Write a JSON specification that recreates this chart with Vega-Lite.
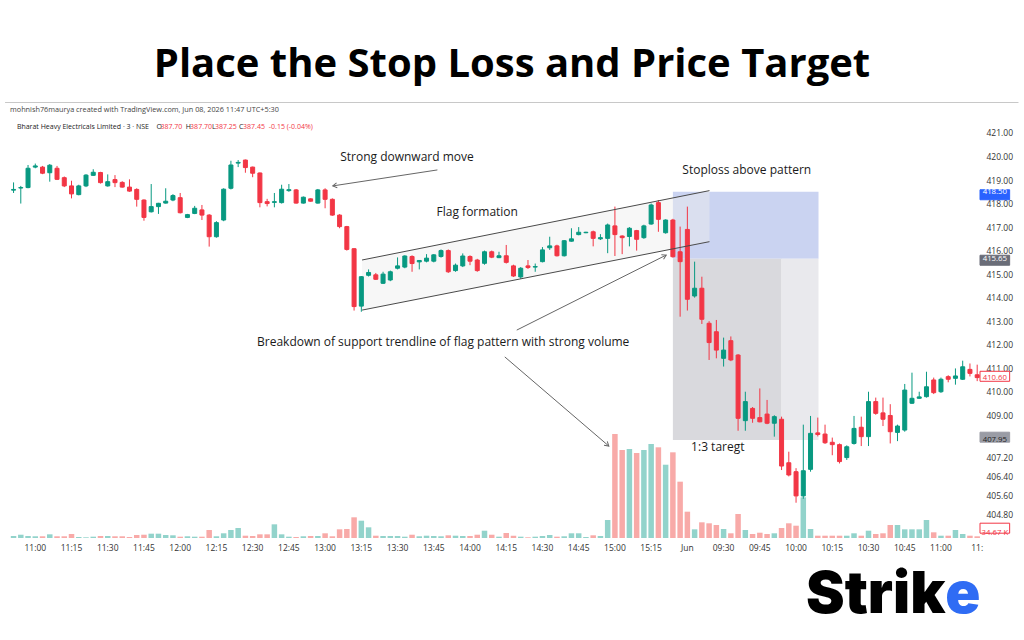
{
  "$schema": "https://vega.github.io/schema/vega-lite/v6.json",
  "width": 980,
  "height": 435,
  "autosize": {"type": "none"},
  "padding": {"left": 4, "top": 103, "right": 40, "bottom": 102},
  "background": "#ffffff",
  "config": {"view": {"stroke": null}},
  "title": {"text": "Place the Stop Loss and Price Target", "font": "Open Sans", "fontSize": 40, "fontWeight": 700, "color": "#000000", "anchor": "middle", "frame": "group", "dx": 18, "offset": 17},
  "datasets": {
    "candles": [
      {"i":0,"o":418.57,"h":418.9,"l":418.45,"c":418.6,"v":41},
      {"i":1,"o":418.66,"h":418.75,"l":418.0,"c":418.68,"v":67},
      {"i":2,"o":418.68,"h":419.64,"l":418.65,"c":419.5,"v":41},
      {"i":3,"o":419.55,"h":419.7,"l":419.5,"c":419.6,"v":35},
      {"i":4,"o":419.55,"h":419.6,"l":419.25,"c":419.29,"v":35},
      {"i":5,"o":419.31,"h":419.68,"l":418.93,"c":419.63,"v":75},
      {"i":6,"o":419.5,"h":419.6,"l":419.0,"c":419.03,"v":35},
      {"i":7,"o":419.1,"h":419.15,"l":418.7,"c":418.75,"v":35},
      {"i":8,"o":418.75,"h":418.97,"l":418.22,"c":418.41,"v":82},
      {"i":9,"o":418.38,"h":418.8,"l":418.35,"c":418.75,"v":20},
      {"i":10,"o":418.75,"h":419.25,"l":418.7,"c":419.21,"v":14},
      {"i":11,"o":419.2,"h":419.46,"l":419.18,"c":419.33,"v":27},
      {"i":12,"o":419.32,"h":419.35,"l":418.85,"c":418.89,"v":41},
      {"i":13,"o":418.75,"h":419.24,"l":418.72,"c":418.93,"v":41},
      {"i":14,"o":419.02,"h":419.21,"l":418.7,"c":418.89,"v":35},
      {"i":15,"o":418.9,"h":418.95,"l":418.68,"c":418.7,"v":35},
      {"i":16,"o":418.7,"h":419.03,"l":418.5,"c":418.53,"v":20},
      {"i":17,"o":418.6,"h":418.65,"l":417.87,"c":418.18,"v":61},
      {"i":18,"o":418.15,"h":418.18,"l":417.27,"c":417.41,"v":67},
      {"i":19,"o":417.65,"h":418.83,"l":417.62,"c":417.87,"v":88},
      {"i":20,"o":417.87,"h":418.03,"l":417.56,"c":418.01,"v":88},
      {"i":21,"o":418.02,"h":418.65,"l":418.0,"c":418.1,"v":61},
      {"i":22,"o":418.15,"h":418.4,"l":418.1,"c":418.34,"v":55},
      {"i":23,"o":418.25,"h":418.45,"l":417.58,"c":417.61,"v":27},
      {"i":24,"o":417.41,"h":417.56,"l":417.38,"c":417.53,"v":35},
      {"i":25,"o":417.58,"h":417.9,"l":417.55,"c":417.8,"v":27},
      {"i":26,"o":417.73,"h":417.94,"l":417.3,"c":417.51,"v":27},
      {"i":27,"o":417.51,"h":417.55,"l":416.17,"c":416.59,"v":163},
      {"i":28,"o":416.59,"h":417.25,"l":416.55,"c":417.19,"v":35},
      {"i":29,"o":417.3,"h":418.65,"l":417.25,"c":418.61,"v":96},
      {"i":30,"o":418.65,"h":419.82,"l":418.6,"c":419.64,"v":163},
      {"i":31,"o":419.72,"h":419.85,"l":419.55,"c":419.75,"v":204},
      {"i":32,"o":419.85,"h":419.87,"l":419.31,"c":419.53,"v":47},
      {"i":33,"o":419.55,"h":419.57,"l":419.12,"c":419.29,"v":41},
      {"i":34,"o":419.3,"h":419.32,"l":417.84,"c":418.04,"v":75},
      {"i":35,"o":418.08,"h":418.2,"l":417.88,"c":418.0,"v":75},
      {"i":36,"o":418.05,"h":418.45,"l":417.84,"c":418.08,"v":279},
      {"i":37,"o":418.04,"h":418.8,"l":418.0,"c":418.61,"v":75},
      {"i":38,"o":418.55,"h":418.83,"l":418.5,"c":418.59,"v":27},
      {"i":39,"o":418.58,"h":418.62,"l":418.0,"c":418.02,"v":20},
      {"i":40,"o":418.02,"h":418.3,"l":418.0,"c":418.27,"v":35},
      {"i":41,"o":418.2,"h":418.22,"l":418.08,"c":418.1,"v":41},
      {"i":42,"o":418.02,"h":418.62,"l":418.0,"c":418.58,"v":41},
      {"i":43,"o":418.58,"h":418.65,"l":417.8,"c":418.18,"v":96},
      {"i":44,"o":418.18,"h":418.22,"l":417.48,"c":417.51,"v":35},
      {"i":45,"o":417.51,"h":417.55,"l":416.95,"c":417.02,"v":177},
      {"i":46,"o":417.02,"h":417.05,"l":416.0,"c":416.05,"v":184},
      {"i":47,"o":416.08,"h":416.1,"l":413.45,"c":413.62,"v":422},
      {"i":48,"o":413.64,"h":414.92,"l":413.4,"c":414.89,"v":353},
      {"i":49,"o":414.95,"h":415.2,"l":414.9,"c":415.07,"v":218},
      {"i":50,"o":414.97,"h":415.05,"l":414.75,"c":414.78,"v":47},
      {"i":51,"o":414.61,"h":415.1,"l":414.58,"c":415.0,"v":41},
      {"i":52,"o":414.75,"h":415.15,"l":414.7,"c":415.1,"v":41},
      {"i":53,"o":415.25,"h":415.71,"l":415.2,"c":415.35,"v":41},
      {"i":54,"o":415.3,"h":415.8,"l":415.25,"c":415.77,"v":27},
      {"i":55,"o":415.75,"h":415.8,"l":415.1,"c":415.45,"v":67},
      {"i":56,"o":415.52,"h":415.6,"l":415.2,"c":415.58,"v":35},
      {"i":57,"o":415.55,"h":415.85,"l":415.5,"c":415.68,"v":47},
      {"i":58,"o":415.55,"h":415.85,"l":415.5,"c":415.82,"v":41},
      {"i":59,"o":415.75,"h":416.05,"l":415.7,"c":416.0,"v":35},
      {"i":60,"o":416.0,"h":416.05,"l":415.05,"c":415.1,"v":55},
      {"i":61,"o":415.15,"h":415.45,"l":415.1,"c":415.38,"v":47},
      {"i":62,"o":415.35,"h":415.88,"l":415.3,"c":415.77,"v":41},
      {"i":63,"o":415.75,"h":415.8,"l":415.38,"c":415.55,"v":41},
      {"i":64,"o":415.6,"h":415.65,"l":415.1,"c":415.15,"v":67},
      {"i":65,"o":415.46,"h":416.0,"l":415.4,"c":415.95,"v":149},
      {"i":66,"o":415.95,"h":416.0,"l":415.68,"c":415.72,"v":67},
      {"i":67,"o":415.7,"h":415.95,"l":415.68,"c":415.78,"v":27},
      {"i":68,"o":415.78,"h":416.24,"l":415.45,"c":415.5,"v":102},
      {"i":69,"o":415.35,"h":415.4,"l":414.88,"c":414.92,"v":47},
      {"i":70,"o":414.88,"h":415.3,"l":414.8,"c":415.25,"v":27},
      {"i":71,"o":415.35,"h":415.6,"l":415.22,"c":415.28,"v":14},
      {"i":72,"o":415.3,"h":415.45,"l":415.1,"c":415.32,"v":27},
      {"i":73,"o":415.53,"h":416.15,"l":415.5,"c":416.03,"v":41},
      {"i":74,"o":416.12,"h":416.59,"l":416.03,"c":416.2,"v":61},
      {"i":75,"o":416.2,"h":416.25,"l":415.75,"c":415.78,"v":27},
      {"i":76,"o":415.78,"h":416.45,"l":415.75,"c":416.42,"v":35},
      {"i":77,"o":416.4,"h":416.95,"l":416.38,"c":416.5,"v":96},
      {"i":78,"o":416.68,"h":417.0,"l":416.65,"c":416.78,"v":96},
      {"i":79,"o":416.76,"h":416.8,"l":416.74,"c":416.78,"v":20},
      {"i":80,"o":416.8,"h":416.85,"l":416.18,"c":416.52,"v":55},
      {"i":81,"o":416.5,"h":416.7,"l":416.45,"c":416.55,"v":41},
      {"i":82,"o":416.52,"h":417.15,"l":415.89,"c":417.09,"v":367},
      {"i":83,"o":417.05,"h":417.87,"l":415.77,"c":416.68,"v":2122},
      {"i":84,"o":416.62,"h":416.65,"l":415.85,"c":416.55,"v":1795},
      {"i":85,"o":416.6,"h":417.0,"l":416.18,"c":416.95,"v":1816},
      {"i":86,"o":416.85,"h":416.88,"l":416.0,"c":416.48,"v":1734},
      {"i":87,"o":416.55,"h":417.1,"l":416.5,"c":417.05,"v":1795},
      {"i":88,"o":417.13,"h":418.0,"l":417.1,"c":417.94,"v":1918},
      {"i":89,"o":418.04,"h":418.15,"l":416.8,"c":417.33,"v":1850},
      {"i":90,"o":416.76,"h":417.33,"l":416.72,"c":417.3,"v":1495},
      {"i":91,"o":417.3,"h":417.35,"l":415.7,"c":415.74,"v":1748},
      {"i":92,"o":415.95,"h":417.02,"l":413.19,"c":415.53,"v":1149},
      {"i":93,"o":416.9,"h":417.87,"l":413.45,"c":413.93,"v":537},
      {"i":94,"o":414.07,"h":415.53,"l":414.0,"c":414.4,"v":177},
      {"i":95,"o":414.4,"h":414.89,"l":412.88,"c":413.08,"v":320},
      {"i":96,"o":412.91,"h":413.0,"l":411.35,"c":412.09,"v":300},
      {"i":97,"o":412.55,"h":413.05,"l":411.42,"c":411.77,"v":265},
      {"i":98,"o":411.42,"h":412.3,"l":411.07,"c":411.77,"v":184},
      {"i":99,"o":412.17,"h":412.35,"l":411.3,"c":411.35,"v":96},
      {"i":100,"o":411.56,"h":411.6,"l":408.34,"c":408.87,"v":490},
      {"i":101,"o":408.77,"h":410.0,"l":408.34,"c":409.58,"v":163},
      {"i":102,"o":409.29,"h":409.35,"l":408.68,"c":408.87,"v":82},
      {"i":103,"o":408.9,"h":410.14,"l":408.7,"c":408.72,"v":108},
      {"i":104,"o":409.05,"h":409.65,"l":408.62,"c":408.66,"v":82},
      {"i":105,"o":408.66,"h":409.0,"l":408.09,"c":408.94,"v":96},
      {"i":106,"o":408.83,"h":408.94,"l":406.67,"c":406.84,"v":204},
      {"i":107,"o":406.98,"h":407.45,"l":406.4,"c":406.46,"v":300},
      {"i":108,"o":406.6,"h":406.75,"l":405.28,"c":405.57,"v":251},
      {"i":109,"o":405.57,"h":408.6,"l":405.45,"c":406.64,"v":830},
      {"i":110,"o":406.7,"h":408.97,"l":406.6,"c":408.23,"v":184},
      {"i":111,"o":408.25,"h":408.9,"l":408.1,"c":408.18,"v":47},
      {"i":112,"o":408.2,"h":408.6,"l":407.78,"c":407.83,"v":47},
      {"i":113,"o":407.85,"h":408.05,"l":407.3,"c":407.75,"v":47},
      {"i":114,"o":407.75,"h":407.8,"l":406.95,"c":407.03,"v":47},
      {"i":115,"o":407.2,"h":407.72,"l":407.1,"c":407.66,"v":47},
      {"i":116,"o":407.8,"h":408.97,"l":407.75,"c":408.44,"v":96},
      {"i":117,"o":408.49,"h":408.94,"l":407.69,"c":408.09,"v":47},
      {"i":118,"o":408.09,"h":410.0,"l":407.69,"c":409.58,"v":149},
      {"i":119,"o":409.58,"h":409.75,"l":409.02,"c":409.08,"v":82},
      {"i":120,"o":409.1,"h":409.75,"l":408.54,"c":408.83,"v":96},
      {"i":121,"o":408.99,"h":409.47,"l":407.8,"c":408.3,"v":265},
      {"i":122,"o":408.27,"h":408.6,"l":407.9,"c":408.54,"v":265},
      {"i":123,"o":408.37,"h":410.33,"l":408.3,"c":410.07,"v":177},
      {"i":124,"o":409.51,"h":410.81,"l":409.48,"c":409.72,"v":177},
      {"i":125,"o":409.72,"h":410.0,"l":409.7,"c":409.78,"v":177},
      {"i":126,"o":409.79,"h":410.85,"l":409.75,"c":410.21,"v":367},
      {"i":127,"o":410.5,"h":410.6,"l":409.9,"c":409.96,"v":116},
      {"i":128,"o":410.0,"h":410.6,"l":409.95,"c":410.53,"v":47},
      {"i":129,"o":410.64,"h":410.7,"l":410.4,"c":410.53,"v":47},
      {"i":130,"o":410.57,"h":410.99,"l":410.3,"c":410.67,"v":163},
      {"i":131,"o":410.53,"h":411.32,"l":410.5,"c":411.06,"v":82},
      {"i":132,"o":410.95,"h":411.2,"l":410.65,"c":410.78,"v":47},
      {"i":133,"o":410.72,"h":411.15,"l":410.45,"c":410.6,"v":34.67}
    ],
    "xlabels": [
      {"i":3,"label":"11:00"},{"i":8,"label":"11:15"},{"i":13,"label":"11:30"},{"i":18,"label":"11:45"},
      {"i":23,"label":"12:00"},{"i":28,"label":"12:15"},{"i":33,"label":"12:30"},{"i":38,"label":"12:45"},
      {"i":43,"label":"13:00"},{"i":48,"label":"13:15"},{"i":53,"label":"13:30"},{"i":58,"label":"13:45"},
      {"i":63,"label":"14:00"},{"i":68,"label":"14:15"},{"i":73,"label":"14:30"},{"i":78,"label":"14:45"},
      {"i":83,"label":"15:00"},{"i":88,"label":"15:15"},{"i":93,"label":"Jun"},{"i":98,"label":"09:30"},
      {"i":103,"label":"09:45"},{"i":108,"label":"10:00"},{"i":113,"label":"10:15"},{"i":118,"label":"10:30"},
      {"i":123,"label":"10:45"},{"i":128,"label":"11:00"},{"i":133,"label":"11:"}
    ],
    "zones": [
      {"zone":"stop","x1":91.0,"x2":111.1,"p1":415.65,"p2":418.5},
      {"zone":"loss","x1":91.0,"x2":106.0,"p1":407.95,"p2":415.65},
      {"zone":"rest","x1":106.0,"x2":111.1,"p1":407.95,"p2":415.65}
    ],
    "flag": [
      {"x":48.1,"top":415.6,"bot":413.47},
      {"x":96.05,"top":418.55,"bot":416.38}
    ],
    "lines": [
      {"name":"upper","x1":48.1,"p1":415.6,"x2":96.05,"p2":418.55},
      {"name":"lower","x1":48.1,"p1":413.47,"x2":96.05,"p2":416.38},
      {"name":"a1","x1":58.5,"p1":419.43,"x2":44.06,"p2":418.75},
      {"name":"a2","x1":69.45,"p1":412.62,"x2":90.08,"p2":415.81},
      {"name":"a3","x1":67.8,"p1":411.48,"x2":82.16,"p2":407.69}
    ],
    "notes": [
      {"text":"Strong downward move","x":54.3,"p":419.98},
      {"text":"Flag formation","x":64.0,"p":417.64},
      {"text":"Stoploss above pattern","x":101.2,"p":419.43},
      {"text":"Breakdown of support trendline of flag pattern with strong volume","x":59.3,"p":412.11},
      {"text":"1:3 taregt","x":97.2,"p":407.65}
    ],
    "header": [
      {"text":"mohnish76maurya created with TradingView.com, Jun 08, 2026 11:47 UTC+5:30","x":-0.49,"p":421.98,"part":"credit"},
      {"text":"Bharat Heavy Electricals Limited · 3 · NSE","x":0.46,"p":421.255,"part":"name"},
      {"text":"O","x":19.73,"p":421.255,"part":"name"},
      {"text":"387.70","x":20.27,"p":421.255,"part":"value"},
      {"text":"H","x":23.76,"p":421.255,"part":"name"},
      {"text":"387.70","x":24.37,"p":421.255,"part":"value"},
      {"text":"L","x":27.38,"p":421.255,"part":"name"},
      {"text":"387.25","x":27.79,"p":421.255,"part":"value"},
      {"text":"C","x":31.13,"p":421.255,"part":"name"},
      {"text":"387.45","x":31.68,"p":421.255,"part":"value"},
      {"text":"-0.15 (-0.04%)","x":35.23,"p":421.255,"part":"value"}
    ],
    "tags": [
      {"text":"418.50","p":418.5,"kind":"stop"},
      {"text":"415.65","p":415.65,"kind":"entry"},
      {"text":"410.60","p":410.6,"kind":"last"},
      {"text":"407.95","p":407.95,"kind":"target"},
      {"text":"34.67 K","p":403.99,"kind":"volume"}
    ],
    "logo": [
      {"text":"Strik","x":128.6,"p":400.59,"part":"black"},
      {"text":"e","x":128.6,"p":400.59,"part":"blue"}
    ],
    "frame": [
      {"x1":-1.175,"x2":138.7,"p":422.297}
    ]
  },
  "resolve": {"scale": {"y": "independent"}},
  "layer": [
    {
      "data": {"name": "candles"},
      "mark": {"type": "bar", "size": 5.5},
      "encoding": {
        "x": {"field": "i", "type": "quantitative", "scale": {"domain": [-0.628, 133.25], "nice": false, "zero": false}, "axis": null},
        "y": {"field": "v", "type": "quantitative", "scale": {"domain": [0, 8874], "nice": false, "zero": true}, "axis": null},
        "color": {"condition": {"test": "datum.c >= datum.o", "value": "#92d3cb"}, "value": "#f8aaa8"}
      }
    },
    {
      "data": {"name": "zones"},
      "mark": {"type": "rect"},
      "encoding": {
        "x": {"field": "x1", "type": "quantitative", "scale": {"domain": [-0.628, 133.25], "nice": false, "zero": false}, "axis": null},
        "x2": {"field": "x2"},
        "y": {"field": "p1", "type": "quantitative", "scale": {"domain": [403.7806, 422.2755], "nice": false, "zero": false},
          "axis": {"orient": "right", "values": [404.8,405.6,406.4,407.2,409,410,411,412,413,414,415,416,417,418,419,420,421],
            "format": ".2f", "title": null, "grid": false, "ticks": false, "domain": false, "labelFont": "Open Sans", "labelFontSize": 8.5, "labelColor": "#333333", "labelPadding": 2}},
        "y2": {"field": "p2"},
        "fill": {"condition": [{"test": "datum.zone == 'stop'", "value": "#cad3f1"}, {"test": "datum.zone == 'loss'", "value": "#d9d9dd"}], "value": "#e9e9ed"}
      }
    },
    {
      "data": {"name": "flag"},
      "mark": {"type": "area", "color": "#eeeeee", "opacity": 0.45},
      "encoding": {
        "x": {"field": "x", "type": "quantitative", "scale": {"domain": [-0.628, 133.25], "nice": false, "zero": false}, "axis": null},
        "y": {"field": "top", "type": "quantitative", "scale": {"domain": [403.7806, 422.2755], "nice": false, "zero": false}, "axis": null},
        "y2": {"field": "bot"}
      }
    },
    {
      "data": {"name": "candles"},
      "mark": {"type": "rule", "strokeWidth": 1},
      "encoding": {
        "x": {"field": "i", "type": "quantitative", "scale": {"domain": [-0.628, 133.25], "nice": false, "zero": false}, "axis": null},
        "y": {"field": "l", "type": "quantitative", "scale": {"domain": [403.7806, 422.2755], "nice": false, "zero": false}, "axis": null},
        "y2": {"field": "h"},
        "color": {"condition": {"test": "datum.c >= datum.o", "value": "#089981"}, "value": "#f23645"}
      }
    },
    {
      "data": {"name": "candles"},
      "mark": {"type": "bar", "size": 4, "strokeWidth": 1},
      "encoding": {
        "x": {"field": "i", "type": "quantitative", "scale": {"domain": [-0.628, 133.25], "nice": false, "zero": false}, "axis": null},
        "y": {"field": "o", "type": "quantitative", "scale": {"domain": [403.7806, 422.2755], "nice": false, "zero": false}, "axis": null},
        "y2": {"field": "c"},
        "fill": {"condition": {"test": "datum.c >= datum.o", "value": "#089981"}, "value": "#f23645"},
        "stroke": {"condition": {"test": "datum.c >= datum.o", "value": "#089981"}, "value": "#f23645"}
      }
    },
    {
      "data": {"name": "lines"},
      "mark": {"type": "rule", "strokeWidth": 1},
      "encoding": {
        "x": {"field": "x1", "type": "quantitative", "scale": {"domain": [-0.628, 133.25], "nice": false, "zero": false}, "axis": null},
        "y": {"field": "p1", "type": "quantitative", "scale": {"domain": [403.7806, 422.2755], "nice": false, "zero": false}, "axis": null},
        "x2": {"field": "x2"},
        "y2": {"field": "p2"},
        "color": {"condition": {"test": "datum.name == 'upper' || datum.name == 'lower'", "value": "#4a4a4a"}, "value": "#666666"}
      }
    },
    {
      "data": {"name": "lines"},
      "transform": [{"filter": "datum.name == 'a1'"}],
      "mark": {"type": "point", "shape": "M -0.6 1 L 0 0 L 0.6 1", "filled": false, "size": 70, "angle": 261.4, "stroke": "#666666", "strokeWidth": 1, "opacity": 1},
      "encoding": {
        "x": {"field": "x2", "type": "quantitative", "scale": {"domain": [-0.628, 133.25], "nice": false, "zero": false}, "axis": null},
        "y": {"field": "p2", "type": "quantitative", "scale": {"domain": [403.7806, 422.2755], "nice": false, "zero": false}, "axis": null}
      }
    },
    {
      "data": {"name": "lines"},
      "transform": [{"filter": "datum.name == 'a2'"}],
      "mark": {"type": "point", "shape": "M -0.6 1 L 0 0 L 0.6 1", "filled": false, "size": 70, "angle": 63.6, "stroke": "#666666", "strokeWidth": 1, "opacity": 1},
      "encoding": {
        "x": {"field": "x2", "type": "quantitative", "scale": {"domain": [-0.628, 133.25], "nice": false, "zero": false}, "axis": null},
        "y": {"field": "p2", "type": "quantitative", "scale": {"domain": [403.7806, 422.2755], "nice": false, "zero": false}, "axis": null}
      }
    },
    {
      "data": {"name": "lines"},
      "transform": [{"filter": "datum.name == 'a3'"}],
      "mark": {"type": "point", "shape": "M -0.6 1 L 0 0 L 0.6 1", "filled": false, "size": 70, "angle": 130.3, "stroke": "#666666", "strokeWidth": 1, "opacity": 1},
      "encoding": {
        "x": {"field": "x2", "type": "quantitative", "scale": {"domain": [-0.628, 133.25], "nice": false, "zero": false}, "axis": null},
        "y": {"field": "p2", "type": "quantitative", "scale": {"domain": [403.7806, 422.2755], "nice": false, "zero": false}, "axis": null}
      }
    },
    {
      "data": {"name": "notes"},
      "mark": {"type": "text", "font": "Open Sans", "fontSize": 12, "color": "#1a1a1a", "align": "center", "baseline": "middle"},
      "encoding": {
        "x": {"field": "x", "type": "quantitative", "scale": {"domain": [-0.628, 133.25], "nice": false, "zero": false}, "axis": null},
        "y": {"field": "p", "type": "quantitative", "scale": {"domain": [403.7806, 422.2755], "nice": false, "zero": false}, "axis": null},
        "text": {"field": "text"}
      }
    },
    {
      "data": {"name": "xlabels"},
      "mark": {"type": "text", "font": "Open Sans", "fontSize": 8.5, "color": "#333333", "align": "center", "baseline": "middle"},
      "encoding": {
        "x": {"field": "i", "type": "quantitative", "scale": {"domain": [-0.628, 133.25], "nice": false, "zero": false}, "axis": null},
        "y": {"datum": 403.355, "type": "quantitative", "scale": {"domain": [403.7806, 422.2755], "nice": false, "zero": false}, "axis": null},
        "text": {"field": "label"}
      }
    },
    {
      "data": {"name": "header"},
      "transform": [{"filter": "datum.part == 'credit'"}],
      "mark": {"type": "text", "font": "Open Sans", "fontSize": 7.3, "align": "left", "baseline": "middle", "color": "#444444"},
      "encoding": {
        "x": {"field": "x", "type": "quantitative", "scale": {"domain": [-0.628, 133.25], "nice": false, "zero": false}, "axis": null},
        "y": {"field": "p", "type": "quantitative", "scale": {"domain": [403.7806, 422.2755], "nice": false, "zero": false}, "axis": null},
        "text": {"field": "text"}
      }
    },
    {
      "data": {"name": "header"},
      "transform": [{"filter": "datum.part != 'credit'"}],
      "mark": {"type": "text", "font": "Open Sans", "fontSize": 7, "align": "left", "baseline": "middle"},
      "encoding": {
        "x": {"field": "x", "type": "quantitative", "scale": {"domain": [-0.628, 133.25], "nice": false, "zero": false}, "axis": null},
        "y": {"field": "p", "type": "quantitative", "scale": {"domain": [403.7806, 422.2755], "nice": false, "zero": false}, "axis": null},
        "text": {"field": "text"},
        "color": {"condition": {"test": "datum.part == 'value'", "value": "#f23645"}, "value": "#222222"}
      }
    },
    {
      "data": {"name": "tags"},
      "mark": {"type": "bar", "orient": "horizontal", "size": 10, "strokeWidth": 1},
      "encoding": {
        "x": {"datum": 133.39, "type": "quantitative", "scale": {"domain": [-0.628, 133.25], "nice": false, "zero": false}, "axis": null},
        "x2": {"datum": 137.48},
        "y": {"field": "p", "type": "quantitative", "scale": {"domain": [403.7806, 422.2755], "nice": false, "zero": false}, "axis": null},
        "fill": {"condition": [{"test": "datum.kind == 'stop'", "value": "#2962ff"}, {"test": "datum.kind == 'entry'", "value": "#6a6d78"}, {"test": "datum.kind == 'target'", "value": "#9a9ca5"}], "value": "#ffffff"},
        "stroke": {"condition": [{"test": "datum.kind == 'stop'", "value": "#2962ff"}, {"test": "datum.kind == 'entry'", "value": "#6a6d78"}, {"test": "datum.kind == 'target'", "value": "#9a9ca5"}], "value": "#f23645"}
      }
    },
    {
      "data": {"name": "tags"},
      "mark": {"type": "text", "font": "Open Sans", "fontSize": 7.8, "align": "center", "baseline": "middle"},
      "encoding": {
        "x": {"datum": 135.44, "type": "quantitative", "scale": {"domain": [-0.628, 133.25], "nice": false, "zero": false}, "axis": null},
        "y": {"field": "p", "type": "quantitative", "scale": {"domain": [403.7806, 422.2755], "nice": false, "zero": false}, "axis": null},
        "text": {"field": "text"},
        "color": {"condition": [{"test": "datum.kind == 'stop' || datum.kind == 'entry'", "value": "#ffffff"}, {"test": "datum.kind == 'target'", "value": "#222222"}], "value": "#f23645"}
      }
    },
    {
      "data": {"name": "logo"},
      "transform": [{"filter": "datum.part == 'black'"}],
      "mark": {"type": "text", "font": "Inter", "fontSize": 58, "fontWeight": 900, "align": "right", "baseline": "alphabetic", "color": "#000000"},
      "encoding": {
        "x": {"field": "x", "type": "quantitative", "scale": {"domain": [-0.628, 133.25], "nice": false, "zero": false}, "axis": null},
        "y": {"field": "p", "type": "quantitative", "scale": {"domain": [403.7806, 422.2755], "nice": false, "zero": false}, "axis": null},
        "text": {"field": "text"}
      }
    },
    {
      "data": {"name": "logo"},
      "transform": [{"filter": "datum.part == 'blue'"}],
      "mark": {"type": "text", "font": "Inter", "fontSize": 58, "fontWeight": 900, "align": "left", "baseline": "alphabetic", "color": "#2f6cf4"},
      "encoding": {
        "x": {"field": "x", "type": "quantitative", "scale": {"domain": [-0.628, 133.25], "nice": false, "zero": false}, "axis": null},
        "y": {"field": "p", "type": "quantitative", "scale": {"domain": [403.7806, 422.2755], "nice": false, "zero": false}, "axis": null},
        "text": {"field": "text"}
      }
    },
    {
      "data": {"name": "frame"},
      "mark": {"type": "rule", "strokeWidth": 1, "color": "#c8c8c8"},
      "encoding": {
        "x": {"field": "x1", "type": "quantitative", "scale": {"domain": [-0.628, 133.25], "nice": false, "zero": false}, "axis": null},
        "x2": {"field": "x2"},
        "y": {"field": "p", "type": "quantitative", "scale": {"domain": [403.7806, 422.2755], "nice": false, "zero": false}, "axis": null}
      }
    }
  ]
}
